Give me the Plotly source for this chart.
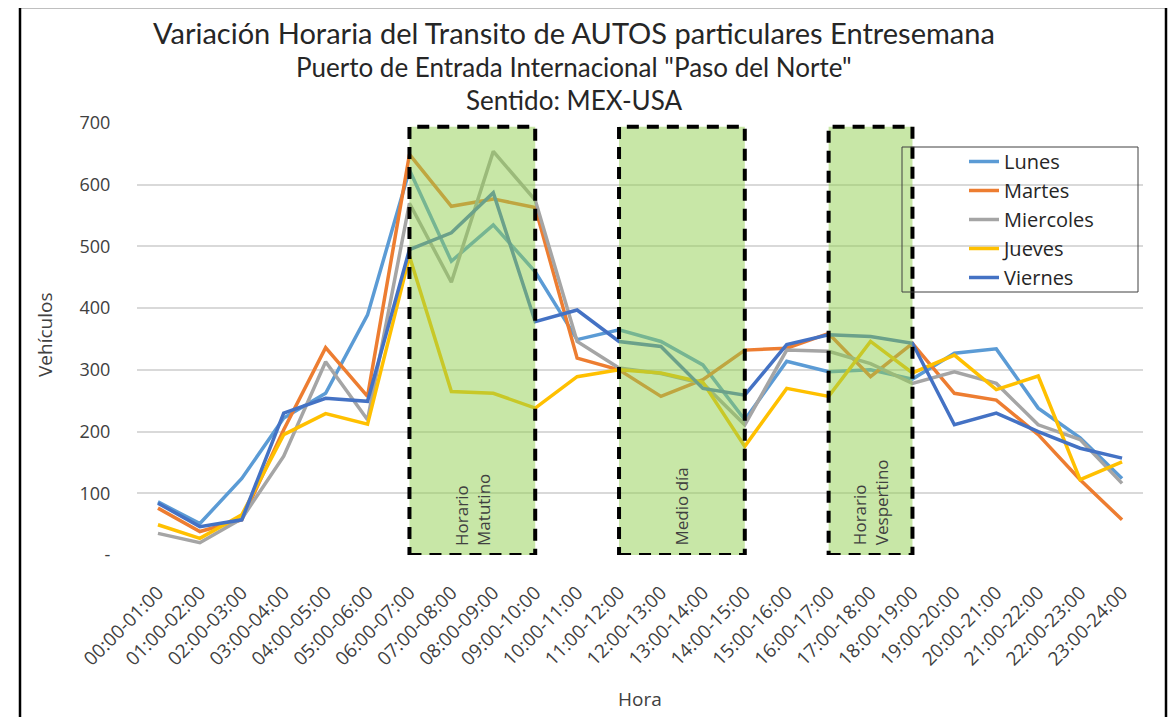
import plotly.graph_objects as go

HORAS = ["00:00-01:00", "01:00-02:00", "02:00-03:00", "03:00-04:00", "04:00-05:00",
         "05:00-06:00", "06:00-07:00", "07:00-08:00", "08:00-09:00", "09:00-10:00",
         "10:00-11:00", "11:00-12:00", "12:00-13:00", "13:00-14:00", "14:00-15:00",
         "15:00-16:00", "16:00-17:00", "17:00-18:00", "18:00-19:00", "19:00-20:00",
         "20:00-21:00", "21:00-22:00", "22:00-23:00", "23:00-24:00"]

LUNES = [86, 51, 124, 222, 262, 389, 624, 476, 535, 459, 349, 365,
         346, 308, 219, 314, 297, 300, 285, 327, 334, 238, 190, 124]
MARTES = [76, 38, 57, 203, 336, 257, 649, 565, 577, 563, 319, 300,
          257, 284, 332, 335, 359, 289, 343, 262, 251, 195, 122, 57]
MIERCOLES = [35, 20, 59, 160, 313, 219, 570, 442, 654, 575, 346, 303,
             294, 278, 211, 332, 330, 310, 278, 297, 278, 211, 187, 116]
JUEVES = [49, 27, 65, 195, 229, 212, 484, 265, 262, 238, 289, 300,
          295, 280, 176, 270, 257, 346, 295, 324, 268, 290, 122, 151]
VIERNES = [84, 46, 57, 230, 254, 249, 495, 522, 587, 378, 397, 346,
           338, 270, 259, 341, 357, 354, 343, 211, 230, 200, 173, 157]

SERIES = ["Lunes", "Martes", "Miercoles", "Jueves", "Viernes"]
Y_TICK_VALUES = [0, 100, 200, 300, 400, 500, 600, 700]
Y_TICK_TEXT = ["-", "100", "200", "300", "400", "500", "600", "700"]

# Shaded periods: (first hour, last hour, label, label position index)
PERIODOS = [("06:00-07:00", "09:00-10:00", "Horario<br>Matutino", 7.5),
            ("11:00-12:00", "14:00-15:00", "Medio día", 12.5),
            ("16:00-17:00", "18:00-19:00", "Horario<br>Vespertino", 17.0)]

TITULO = ["Variación Horaria del Transito de AUTOS particulares Entresemana",
          "Puerto de Entrada Internacional \"Paso del Norte\"",
          "Sentido: MEX-USA"]

COLORS = ["#5B9BD5", "#ED7D31", "#A5A5A5", "#FFC000", "#4472C4"]

# The page body has an 8px margin; the figure is sized so that it fills the window.
OFF = 8
W, H = 1176 - OFF, 717 - OFF
ML, MT = 137 - OFF, 123 - OFF
MR = W - (1143 - OFF)
MB = H - (555 - OFF)
PW, PH = W - ML - MR, H - MT - MB


def px(xr):
    """window x pixel -> paper coordinate"""
    return (xr - OFF - ML) / PW


def py(yr):
    """window y pixel -> paper coordinate"""
    return (H - MB - (yr - OFF)) / PH


fig = go.Figure()
for name, vals, col in zip(SERIES, [LUNES, MARTES, MIERCOLES, JUEVES, VIERNES], COLORS):
    fig.add_trace(go.Scatter(x=HORAS, y=vals, name=name, mode="lines",
                             line=dict(color=col, width=3.5)))

shapes = []
annotations = []
for a, b, label, pos in PERIODOS:
    shapes.append(dict(type="rect", xref="x", yref="y",
                       x0=HORAS.index(a), x1=HORAS.index(b), y0=0, y1=694,
                       fillcolor="rgba(146,208,80,0.5)",
                       line=dict(color="black", width=4, dash="12px,8px"),
                       layer="above"))
    annotations.append(dict(x=pos, y=12, xref="x", yref="y", text=label,
                            textangle=-90, showarrow=False, align="left",
                            xanchor="center", yanchor="bottom",
                            font=dict(family="Open Sans", size=17, color="#404040")))

# Legend frame
shapes.append(dict(type="rect", xref="paper", yref="paper",
                   x0=px(902), x1=px(1138), y0=py(292), y1=py(147),
                   line=dict(color="#404040", width=1), fillcolor="rgba(0,0,0,0)",
                   layer="above"))
# Outer chart border
shapes.append(dict(type="rect", xref="paper", yref="paper",
                   x0=px(20), x1=px(1166), y0=py(730), y1=py(7),
                   line=dict(color="black", width=2.5), fillcolor="rgba(0,0,0,0)",
                   layer="above"))

title_y = [32, 67, 100]
title_size = [29, 26, 26]
for t, yy, s in zip(TITULO, title_y, title_size):
    annotations.append(dict(x=px(574), y=py(yy), xref="paper", yref="paper",
                            text=t, showarrow=False, xanchor="center", yanchor="middle",
                            font=dict(family="Lato", size=s, color="#262626")))

annotations.append(dict(x=px(45), y=py(335), xref="paper", yref="paper",
                        text="Vehículos", textangle=-90, showarrow=False,
                        xanchor="center", yanchor="middle",
                        font=dict(family="Open Sans", size=19, color="#404040")))
annotations.append(dict(x=px(640), y=py(699), xref="paper", yref="paper",
                        text="Hora", showarrow=False,
                        xanchor="center", yanchor="middle",
                        font=dict(family="Open Sans", size=19, color="#404040")))

fig.update_layout(
    width=W, height=H,
    margin=dict(l=ML, r=MR, t=MT, b=MB, autoexpand=False),
    paper_bgcolor="white", plot_bgcolor="white",
    shapes=shapes, annotations=annotations,
    showlegend=True,
    legend=dict(x=px(964), y=py(142), xanchor="left", yanchor="top",
                bgcolor="rgba(0,0,0,0)", borderwidth=0,
                font=dict(family="Open Sans", size=20, color="#262626"),
                tracegroupgap=0),
    xaxis=dict(type="category", tickangle=-45, showgrid=False, showline=False,
               zeroline=False, ticks="outside", ticklen=18, tickcolor="rgba(0,0,0,0)",
               tickfont=dict(family="Open Sans", size=19, color="#404040"),
               range=[-0.5, 23.5]),
    yaxis=dict(range=[0, 700], tickvals=Y_TICK_VALUES, ticktext=Y_TICK_TEXT,
               showgrid=True, gridcolor="#d9d9d9", gridwidth=1.5, zeroline=False,
               showline=False, ticks="outside", ticklen=22, tickcolor="rgba(0,0,0,0)",
               tickfont=dict(family="Open Sans", size=18, color="#404040")),
)

fig.write_html("out.html")
